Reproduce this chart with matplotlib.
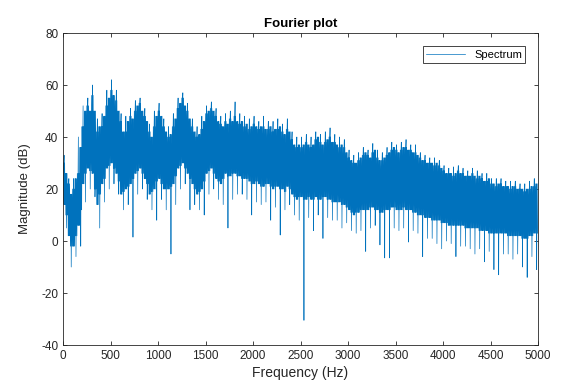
import matplotlib
matplotlib.use("Agg")
import matplotlib.pyplot as plt
import numpy as np

plt.rcParams['font.family'] = ['Liberation Sans', 'DejaVu Sans']
plt.rcParams['axes.unicode_minus'] = False

# dense core of the spectrum, read per 25 Hz (dB)
core_start = np.arange(0, 5000, 25)
core_hi = [30, 26, 22, 18, 20, 24, 26, 36, 44, 50, 52, 50, 56, 50, 42, 44, 44, 48, 52, 55,
           58, 56, 54, 50, 46, 42, 42, 46, 48, 47, 50, 52, 53, 50, 48, 46, 42, 40, 44, 48,
           50, 48, 44, 42, 40, 41, 44, 47, 51, 53, 55, 52, 50, 47, 44, 42, 40, 41, 43, 46,
           49, 50, 51, 50, 48, 46, 45, 44, 46, 45, 47, 46, 48, 46, 45, 46, 44, 45, 43, 44,
           45, 44, 43, 44, 44, 43, 43, 44, 42, 43, 43, 44, 42, 41, 43, 42, 39, 37, 36, 37,
           36, 37, 38, 37, 36, 37, 39, 40, 38, 37, 38, 39, 40, 38, 38, 37, 36, 37, 36, 34,
           32, 31, 30, 30, 31, 32, 33, 34, 33, 32, 34, 35, 32, 31, 31, 32, 33, 34, 35, 36,
           35, 34, 35, 36, 36, 35, 35, 34, 34, 33, 32, 31, 31, 30, 30, 30, 29, 30, 29, 28,
           27, 26, 26, 26, 25, 26, 27, 26, 26, 25, 25, 25, 26, 25, 24, 25, 24, 23, 23, 24,
           22, 22, 21, 22, 22, 21, 21, 21, 20, 21, 21, 20, 20, 20, 19, 20, 20, 21, 21, 22]
core_lo = [14, 10, 2, -2, -2, 2, 6, 12, 22, 26, 28, 27, 26, 20, 14, 18, 22, 24, 28, 29,
           30, 28, 26, 23, 18, 19, 20, 21, 22, 24, 26, 27, 28, 26, 24, 22, 18, 19, 20, 23,
           24, 22, 20, 20, 20, 21, 22, 25, 28, 29, 30, 28, 26, 24, 22, 20, 18, 19, 20, 23,
           26, 27, 28, 26, 24, 23, 22, 24, 26, 25, 25, 26, 26, 25, 25, 24, 24, 24, 23, 22,
           22, 23, 22, 21, 21, 22, 22, 21, 20, 21, 21, 20, 20, 19, 21, 20, 18, 17, 16, 17,
           17, 16, 16, 17, 16, 16, 17, 16, 16, 17, 17, 16, 16, 15, 15, 15, 15, 14, 14, 13,
           12, 11, 10, 11, 11, 12, 12, 12, 12, 13, 13, 12, 12, 11, 11, 12, 12, 12, 13, 13,
           12, 12, 12, 13, 12, 12, 12, 11, 11, 10, 10, 10, 9, 9, 9, 8, 8, 8, 8, 7,
           7, 7, 6, 6, 6, 6, 6, 6, 6, 5, 5, 5, 5, 5, 5, 4, 4, 4, 4, 3,
           3, 3, 3, 3, 3, 3, 3, 2, 2, 2, 2, 2, 2, 1, 1, 1, 2, 2, 3, 3]

# outer peaks and dips, one each per 50 Hz (dB)
outer_start = np.arange(0, 5000, 50)
outer_hi = [33, 24, 24, 40, 52, 55, 60, 47, 49, 58,
            62, 58, 49, 48, 51, 54, 55, 51, 45, 50,
            53, 47, 44, 49, 55, 57, 53, 47, 44, 48,
            52, 53.5, 51, 48, 49, 50, 53.5, 49, 48, 47,
            48, 46, 48, 46, 46, 47, 45, 47, 42, 40,
            40, 41, 40, 42, 41, 42, 43.5, 41, 40, 39,
            35, 33, 34, 36, 35, 37.5, 35, 34, 36, 38,
            37, 38, 39, 37, 37, 34, 33, 32, 32, 31,
            29, 28, 28.5, 29, 28, 27, 28, 27, 26, 26,
            24, 24, 24, 23, 23, 23, 22, 22, 23, 24]
outer_lo = [5, -10, -6, -2, 15, 20, 17, 5, 15, 20,
            22, 18, 12, 14, 1.5, 18, 20, 16, 12, 8,
            16, 12, -5, 14, 20, 22, 12, 14, 12, 10,
            18, 20, 16, 14, 5, 16, 18, 18, 16, 10,
            15, 14, 15, 8, 13, 2.3, 12, 14, 10, 8,
            -30.5, 9, 4, 10, 1, 9, 8, 8, 5, 7,
            4, 3, 4, -4, 5, 6, -1.5, -6.5, -6.5, 5,
            4, 5, -0.4, 4, 3, -6, 1, 1, -1, -3,
            0, -1, -6, -2, -2, -3, -5, -3, -8, -4,
            -11, -13, -5, -5, -7, -5, -10, -14, -6, -11]

# build the trace: zigzag through the core, spikes out to the outer values
freq = []
mag = []
steps = 6
for f0, h, l in zip(core_start, core_hi, core_lo):
    for k in range(steps):
        freq.append(f0 + 25.0 * k / steps)
        mag.append(h if k % 2 == 0 else l)
for f0, h, l in zip(outer_start, outer_hi, outer_lo):
    freq.append(f0 + 11.0)
    mag.append(h)
    freq.append(f0 + 36.0)
    mag.append(l)
freq = np.array(freq, dtype=float)
mag = np.array(mag, dtype=float)
order = np.argsort(freq, kind="stable")
freq = freq[order]
mag = mag[order]

fig = plt.figure(figsize=(5.63, 3.83), dpi=100)
ax = fig.add_axes([0.112, 0.0992, 0.8436, 0.8146])
ax.plot(freq, mag, color="#0072BD", lw=0.5, label="Spectrum")

ax.set_xlim(0, 5000)
ax.set_ylim(-40, 80)
ax.set_xticks(np.arange(0, 5001, 500))
ax.set_yticks(np.arange(-40, 81, 20))
ax.tick_params(direction="in", top=True, right=True, labelsize=8.5,
               color="#262626", labelcolor="#262626", length=3, width=0.6)
for s in ax.spines.values():
    s.set_color("#262626")
    s.set_linewidth(0.6)

ax.set_title("Fourier plot", fontsize=9.5, fontweight="bold", color="#000000", pad=4)
ax.set_xlabel("Frequency (Hz)", fontsize=10, color="#262626", labelpad=3)
ax.set_ylabel("Magnitude (dB)", fontsize=9.5, color="#262626", labelpad=7)

leg = ax.legend(loc="upper right", fontsize=8, fancybox=False, framealpha=1,
                edgecolor="#262626", borderpad=0.3, handlelength=3.5,
                bbox_to_anchor=(0.985, 0.975))
leg.get_frame().set_linewidth(0.6)

fig.savefig("out.png", dpi=100)
